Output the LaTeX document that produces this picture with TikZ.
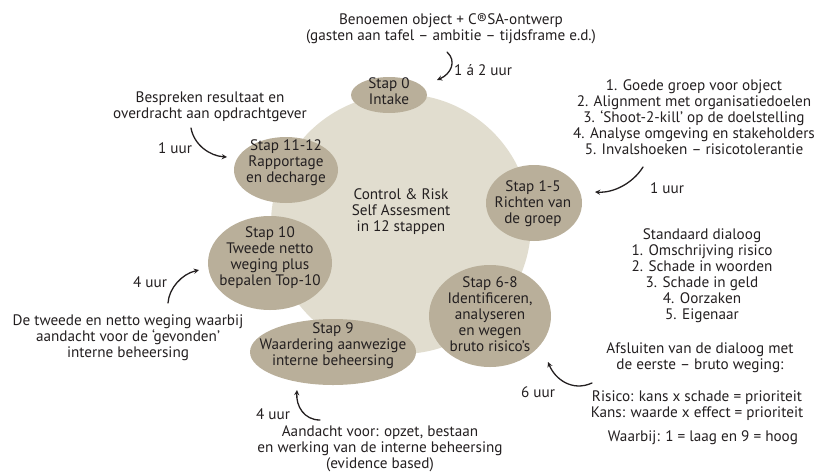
\documentclass[tikz,border=0pt]{standalone}
\usepackage{fontspec}
\setmainfont{PT Sans}
\usetikzlibrary{arrows}
\definecolor{stapkleur}{HTML}{B9AF9A}
\definecolor{cirkelkleur}{HTML}{E1DDCF}
\definecolor{tekstkleur}{HTML}{231F20}
\begin{document}
\begin{tikzpicture}[x=1pt, y=-1pt, line cap=round, line join=round, font=\fontsize{15.2}{16}\selectfont, >=stealth, text=tekstkleur]
			\tikzset{stap/.style={fill=stapkleur}, label style/.style={align=center, inner sep=0pt}, uur pijl/.style={->, line width=1.3pt, draw=tekstkleur}}
			\useasboundingbox (0,0) rectangle (819,472);
			\fill[cirkelkleur] (401,224) circle (130);
			\fill[stap] (389,95) ellipse (38 and 18)
			(286,170) ellipse (52 and 33)
			(534,203) ellipse (48 and 38)
			(270,263) ellipse (62 and 47)
			(490,316) ellipse (61 and 51)
			(333,352) ellipse (83 and 33);
			\node[label style] (stap0) at (389,91) {Stap 0\\Intake};
			\node[label style] (stap11) at (286,163) {Stap 11-12\\Rapportage\\en decharge};
			\node[label style] (stap1) at (533,204) {Stap 1-5\\Richten van\\de groep};
			\node[label style] (stap10) at (270,258) {Stap 10\\Tweede netto\\weging plus\\bepalen Top-10};
			\node[label style] (stap6) at (490,314) {Stap 6-8\\Identificeren,\\analyseren\\en wegen\\bruto risico’s};
			\node[label style] (stap9) at (333,346) {Stap 9\\Waardering aanwezige\\interne beheersing};
			\node[label style] (midden) at (401,212) {Control \& Risk\\Self Assesment\\in 12 stappen};
			% toelichtingen
			\node[label style] (intake) at (451,29) {Benoemen object + C®SA-ontwerp\\(gasten aan tafel – ambitie – tijdsframe e.d.)};
			\node[label style] (bespreken) at (210,107) {Bespreken resultaat en\\overdracht aan opdrachtgever};
			\node[label style] (richten) at (694,117) {1. Goede groep voor object\\2. Alignment met organisatiedoelen\\3. ‘Shoot-2-kill’ op de doelstelling\\4. Analyse omgeving en stakeholders\\5. Invalshoeken – risicotolerantie};
			\node[label style] (tweede) at (128,338) {De tweede en netto weging waarbij\\aandacht voor de ‘gevonden’\\interne beheersing};
			\node[label style] (dialoog) at (702,276) {Standaard dialoog\\1. Omschrijving risico\\2. Schade in woorden\\3. Schade in geld\\4. Oorzaken\\5. Eigenaar};
			\node[label style] (afsluiten) at (700,358) {Afsluiten van de dialoog met\\de eerste – bruto weging:};
			\node[label style] (formule) at (697,406) {Risico: kans x schade = prioriteit\\Kans: waarde x effect = prioriteit};
			\node[label style] (waarbij) at (703,438) {Waarbij: 1 = laag en 9 = hoog};
			\node[label style] (aandacht) at (380,449) {Aandacht voor: opzet, bestaan\\en werking van de interne beheersing\\(evidence based)};
			% uren
			\node[label style, anchor=west] (uur0) at (454,70) {1 á 2 uur};
			\node[label style] (uur11) at (175,148) {1 uur};
			\node[label style] (uur1) at (667,188) {1 uur};
			\node[label style] (uur10) at (150,282) {4 uur};
			\node[label style] (uur6) at (538,392) {6 uur};
			\node[label style] (uur9) at (273,414) {4 uur};
			\coordinate (p0a) at (447,52); \coordinate (p0b) at (437,80);
			\coordinate (p11a) at (191,128); \coordinate (p11b) at (227,157);
			\coordinate (p1a) at (643,167); \coordinate (p1b) at (595,192);
			\coordinate (p10a) at (168,303); \coordinate (p10b) at (199,270);
			\coordinate (p6a) at (592,383); \coordinate (p6b) at (548,362);
			\coordinate (p9a) at (320,420); \coordinate (p9b) at (297,390);
			\draw[uur pijl] (p0a) .. controls (457,61) and (451,74) .. (p0b);
			\draw[uur pijl] (p11a) .. controls (194,145) and (210,156) .. (p11b);
			\draw[uur pijl] (p1a) .. controls (633,183) and (614,193) .. (p1b);
			\draw[uur pijl] (p10a) .. controls (169,288) and (182,274) .. (p10b);
			\draw[uur pijl] (p6a) .. controls (572,392) and (555,379) .. (p6b);
			\draw[uur pijl] (p9a) .. controls (304,420) and (296,406) .. (p9b);
		\end{tikzpicture}
\end{document}
